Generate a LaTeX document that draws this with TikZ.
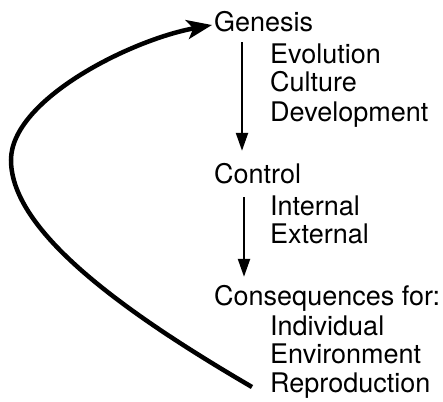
\documentclass[tikz,border=0pt]{standalone}
\usepackage{fontspec}
\setmainfont{TeX Gyre Heros}
\usetikzlibrary{arrows.meta,calc}
\begin{document}
\begin{tikzpicture}[x=1pt,y=-1pt,
  lbl/.style={anchor=base west,inner sep=0pt,font=\fontsize{27}{30}\selectfont,text height=20pt,text depth=6pt},
  flow/.style={line width=2.3pt,-{Triangle[length=18pt,width=12pt]}},
  loopline/.style={line width=4.5pt,-{Stealth[length=25pt,width=19pt,inset=6pt]}}]
\useasboundingbox (0,0) rectangle (443,401);
\node[lbl] (gen) at (214,32) {Genesis};
\node[lbl] (evo) at (270,64) {Evolution};
\node[lbl] (cul) at (270,92) {Culture};
\node[lbl] (dev) at (270,121) {Development};
\node[lbl] (ctrl) at (214,183) {Control};
\node[lbl] (int) at (270,215) {Internal};
\node[lbl] (ext) at (270,243) {External};
\node[lbl] (cons) at (214,305) {Consequences for:};
\node[lbl] (ind) at (270,335) {Individual};
\node[lbl] (env) at (270,363) {Environment};
\node[lbl] (rep) at (270,392) {Reproduction};
\draw[flow] ($(gen.south west)+(28,4)$) -- ($(ctrl.north west)+(28,-12)$);
\draw[flow] ($(ctrl.south west)+(30,8)$) -- ($(cons.north west)+(30,-8)$);
\coordinate (loopend) at (252,387);
\draw[loopline] (loopend) .. controls (120,310) and (11,230) .. (11,160)
  .. controls (11,100) and (130,40) .. ([xshift=-2pt]gen.west);
\end{tikzpicture}
\end{document}
